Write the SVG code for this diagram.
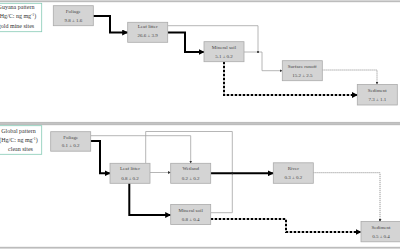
<svg xmlns="http://www.w3.org/2000/svg" width="400" height="250" viewBox="0 0 400 250">
<style>
.frame{fill:#fff;stroke:#bcbcbc;stroke-width:1.8}
.legend{fill:#fff;stroke:#86cbb6;stroke-width:0.8}
.lt{font-family:"Liberation Serif","Times New Roman",serif;font-size:6px;fill:#333;text-anchor:middle}
.node rect{fill:#d4d4d4;stroke:#ababab;stroke-width:0.8}
.node text{font-family:"Liberation Serif","Times New Roman",serif;font-size:5px;fill:#444;text-anchor:middle}
.thick{fill:none;stroke:#000;stroke-width:2;marker-end:url(#ab)}
.dash{fill:none;stroke:#000;stroke-width:2;stroke-dasharray:2.5 1.5;marker-end:url(#ab)}
.thin{fill:none;stroke:#a3a3a3;stroke-width:0.8}
.thina{fill:none;stroke:#a3a3a3;stroke-width:0.8;marker-end:url(#ag)}
.dot{fill:none;stroke:#8f8f8f;stroke-width:0.9;stroke-dasharray:1.2 0.8;marker-end:url(#ag)}
</style>
<defs>
<marker id="ab" markerUnits="userSpaceOnUse" markerWidth="6" markerHeight="6" refX="5.5" refY="3" orient="auto"><path d="M0,0 L6,3 L0,6 z" fill="#000"/></marker>
<marker id="ag" markerUnits="userSpaceOnUse" markerWidth="3" markerHeight="3" refX="2.8" refY="1.5" orient="auto"><path d="M0,0 L3,1.5 L0,3 z" fill="#333"/></marker>
</defs>
<rect width="400" height="250" fill="#fff"/>
<rect class="frame" x="-5" y="1.3" width="410" height="121.5"/>
<rect class="frame" x="-5" y="124.3" width="410" height="123.4"/>

<g id="legend-top">
<rect class="legend" x="-15" y="3.3" width="56.7" height="28.4"/>
<text class="lt" x="16" y="8.5">Guyana pattern</text>
<text class="lt" x="17" y="18.2">(Hg/C: ng mg<tspan dy="-2.2" font-size="3.8">-1</tspan><tspan dy="2.2">)</tspan></text>
<text class="lt" x="16" y="28">gold mine sites</text>
</g>
<g id="legend-bottom">
<rect class="legend" x="-15" y="125.7" width="56.7" height="28.6"/>
<text class="lt" x="18.5" y="133">Global pattern</text>
<text class="lt" x="18.5" y="141.8">(Hg/C: ng mg<tspan dy="-2.2" font-size="3.8">-1</tspan><tspan dy="2.2">)</tspan></text>
<text class="lt" x="20.5" y="150.5">clean sites</text>
</g>

<g id="connectors">
<!-- top panel -->
<path class="thick" d="M92.7,16 H110 V32.5 H127.7"/>
<path class="thick" d="M167.7,32.5 H185 V52 H204"/>
<path class="thin" d="M167.7,25.7 H258 V52"/>
<path class="thina" d="M244,52 H262 V70.7 H282.3"/>
<circle cx="258" cy="52" r="1" fill="#222"/>
<path class="dot" d="M322.3,70 H377 V84.3"/>
<path class="dash" d="M224,61.7 V95 H357.3"/>
<!-- bottom panel -->
<path class="thick" d="M90.7,141 H100 V173.3 H110"/>
<path class="thina" d="M90.7,135.7 H190.7 V163.3"/>
<path class="thin" d="M145.7,163.3 V131.5 H232.3 V212.7 H210.7"/>
<path class="thina" d="M150,172.5 H170.7"/>
<path class="thick" d="M210.7,173.3 H273.3"/>
<circle cx="232.3" cy="173.3" r="1" fill="#222"/>
<path class="thick" d="M129.3,183.3 V215 H170.7"/>
<path class="dot" d="M313.3,172.7 H380 V221.7"/>
<path class="dash" d="M210.7,219 H286 V232 H361"/>
</g>

<g id="n-foliage-top" class="node"><rect x="53.3" y="5.7" width="40" height="20"/><text x="73.3" y="13.4">Foliage</text><text x="73.3" y="22.4">9.8 ± 1.6</text></g>
<g id="n-leaflitter-top" class="node"><rect x="127.7" y="22.3" width="40" height="20"/><text x="147.7" y="28.4">Leaf litter</text><text x="147.7" y="37.2">26.6 ± 3.9</text></g>
<g id="n-mineralsoil-top" class="node"><rect x="204" y="41.7" width="40" height="20"/><text x="224" y="49">Mineral soil</text><text x="224" y="58.3">5.1 ± 0.2</text></g>
<g id="n-runoff-top" class="node"><rect x="282.3" y="60.7" width="40" height="20"/><text x="302.3" y="68">Surface runoff</text><text x="302.3" y="77.3">15.2 ± 2.5</text></g>
<g id="n-sediment-top" class="node"><rect x="357.3" y="84.5" width="40" height="20.5"/><text x="377.3" y="91.8">Sediment</text><text x="377.3" y="101">7.3 ± 1.1</text></g>

<g id="n-foliage-bot" class="node"><rect x="50.7" y="131.7" width="40" height="19.5"/><text x="70.7" y="138.5">Foliage</text><text x="70.7" y="147.3">0.1 ± 0.2</text></g>
<g id="n-leaflitter-bot" class="node"><rect x="110" y="163.3" width="40" height="20"/><text x="130" y="170.3">Leaf litter</text><text x="130" y="179.5">0.8 ± 0.2</text></g>
<g id="n-wetland-bot" class="node"><rect x="170.7" y="163.3" width="40" height="20"/><text x="190.7" y="170.3">Wetland</text><text x="190.7" y="179.5">0.2 ± 0.2</text></g>
<g id="n-mineralsoil-bot" class="node"><rect x="170.7" y="204.5" width="40" height="20"/><text x="190.7" y="211.5">Mineral soil</text><text x="190.7" y="220.7">0.8 ± 0.4</text></g>
<g id="n-river-bot" class="node"><rect x="273.3" y="162.8" width="40" height="20.5"/><text x="293.3" y="169.8">River</text><text x="293.3" y="179.2">0.3 ± 0.2</text></g>
<g id="n-sediment-bot" class="node"><rect x="361" y="221.5" width="40" height="20.3"/><text x="381" y="228.6">Sediment</text><text x="381" y="237.8">0.5 ± 0.4</text></g>
</svg>
